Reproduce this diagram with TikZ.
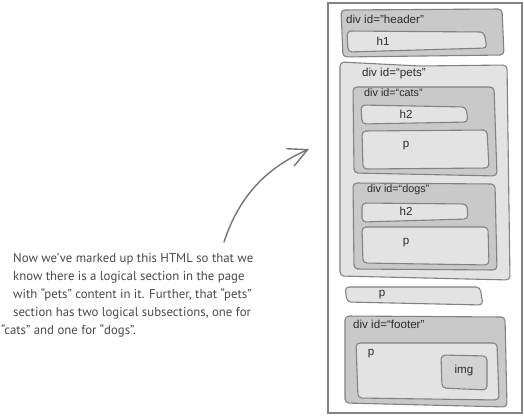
\documentclass[tikz,border=0pt]{standalone}
\usepackage{fontspec}
\setmainfont{Liberation Sans}
\newfontfamily\handfont{PT Sans}
\usetikzlibrary{arrows.meta}

\definecolor{edgegray}{HTML}{828282}
\definecolor{darkfill}{HTML}{C9C9C9}
\definecolor{lightfill}{HTML}{E3E3E3}
\definecolor{inkgray}{HTML}{2A2A2A}

\begin{document}
\begin{tikzpicture}[x=1pt,y=-1pt,
    darkbox/.style={draw=edgegray,fill=darkfill,line width=1.1pt,rounded corners=4pt},
    lightbox/.style={draw=edgegray,fill=lightfill,line width=1.1pt,rounded corners=4pt},
    tag/.style={anchor=west,inner sep=0pt,text=inkgray,font=\fontsize{11.6}{13}\selectfont},
    smalltag/.style={tag,font=\fontsize{10.8}{12}\selectfont},
    elem/.style={inner sep=0pt,text=inkgray,font=\fontsize{11.6}{13}\selectfont}]
  \useasboundingbox (0,0) rectangle (524,415);
  \fill[white] (0,0) rectangle (524,415);

  % the page
  \draw[edgegray,line width=1.4pt,fill=white] (328,3) rectangle (522,413);

  % header
  \draw[darkbox] (341,10) -- (502,9) -- (504,55) -- (343,57) -- cycle;
  \node[tag] (header) at (346,19) {div id="header"};
  \draw[lightbox] (347,31) -- (484,32) -- (487,48) -- (348,52) -- cycle;
  \node[elem] (h1) at (383,41) {h1};

  % pets
  \draw[lightbox] (340,62) -- (420,66) -- (507,65) -- (510,280) -- (340,276) -- cycle;
  \node[tag] (pets) at (362,73) {div id=“pets”};

  \draw[darkbox] (353,87) -- (494,87) -- (497,176) -- (354,173) -- cycle;
  \node[smalltag] (cats) at (364,93) {div id=“cats”};
  \draw[lightbox] (361,105) -- (466,107) -- (468,122) -- (362,124) -- cycle;
  \node[elem] (catsh2) at (406,114) {h2};
  \draw[lightbox] (362,131) -- (487,130) -- (489,168) -- (363,169) -- cycle;
  \node[elem] (catsp) at (406,146) {p};

  \draw[darkbox] (353,183) -- (495,184) -- (497,270) -- (354,269) -- cycle;
  \node[smalltag] (dogs) at (367,190) {div id=“dogs”};
  \draw[lightbox] (362,203) -- (467,204) -- (468,219) -- (362,222) -- cycle;
  \node[elem] (dogsh2) at (406,211) {h2};
  \draw[lightbox] (362,227) -- (488,227) -- (489,265) -- (363,263) -- cycle;
  \node[elem] (dogsp) at (406,243) {p};

  % paragraph
  \draw[lightbox] (345,287) -- (480,287) -- (483,305) -- (347,302) -- cycle;
  \node[elem] (para) at (382,295) {p};

  % footer
  \draw[darkbox] (345,316) -- (505,317) -- (507,407) -- (345,403) -- cycle;
  \node[tag] (footer) at (353,324) {div id=“footer”};
  \draw[lightbox] (356,343) -- (497,343) -- (499,400) -- (358,398) -- cycle;
  \node[elem] (footp) at (371,354) {p};
  \draw[lightbox,fill=darkfill!60!lightfill] (441,355) -- (487,356) -- (487,390) -- (442,388) -- cycle;
  \node[elem] (img) at (464,370) {img};

  % note
  \node[anchor=north west,inner sep=0pt,align=left,text=inkgray!85,
        font=\handfont\fontsize{12.8}{18}\selectfont] (note) at (13,253)
    {Now we’ve marked up this HTML so that we\\
     know there is a logical section in the page\\
     with “pets” content in it. Further, that “pets”\\
     section has two logical subsections, one for\\
     \hspace*{-12pt}“cats” and one for “dogs”.};
  \coordinate (tail) at (224,242);
  \coordinate (tip) at (309,149);
  \draw[edgegray!90!black,line width=1.4pt,line cap=round,
        -{Straight Barb[length=19pt,width=19pt,line width=1.4pt]}]
    (tail) .. controls (238,200) and (262,170) .. (tip);
\end{tikzpicture}
\end{document}
